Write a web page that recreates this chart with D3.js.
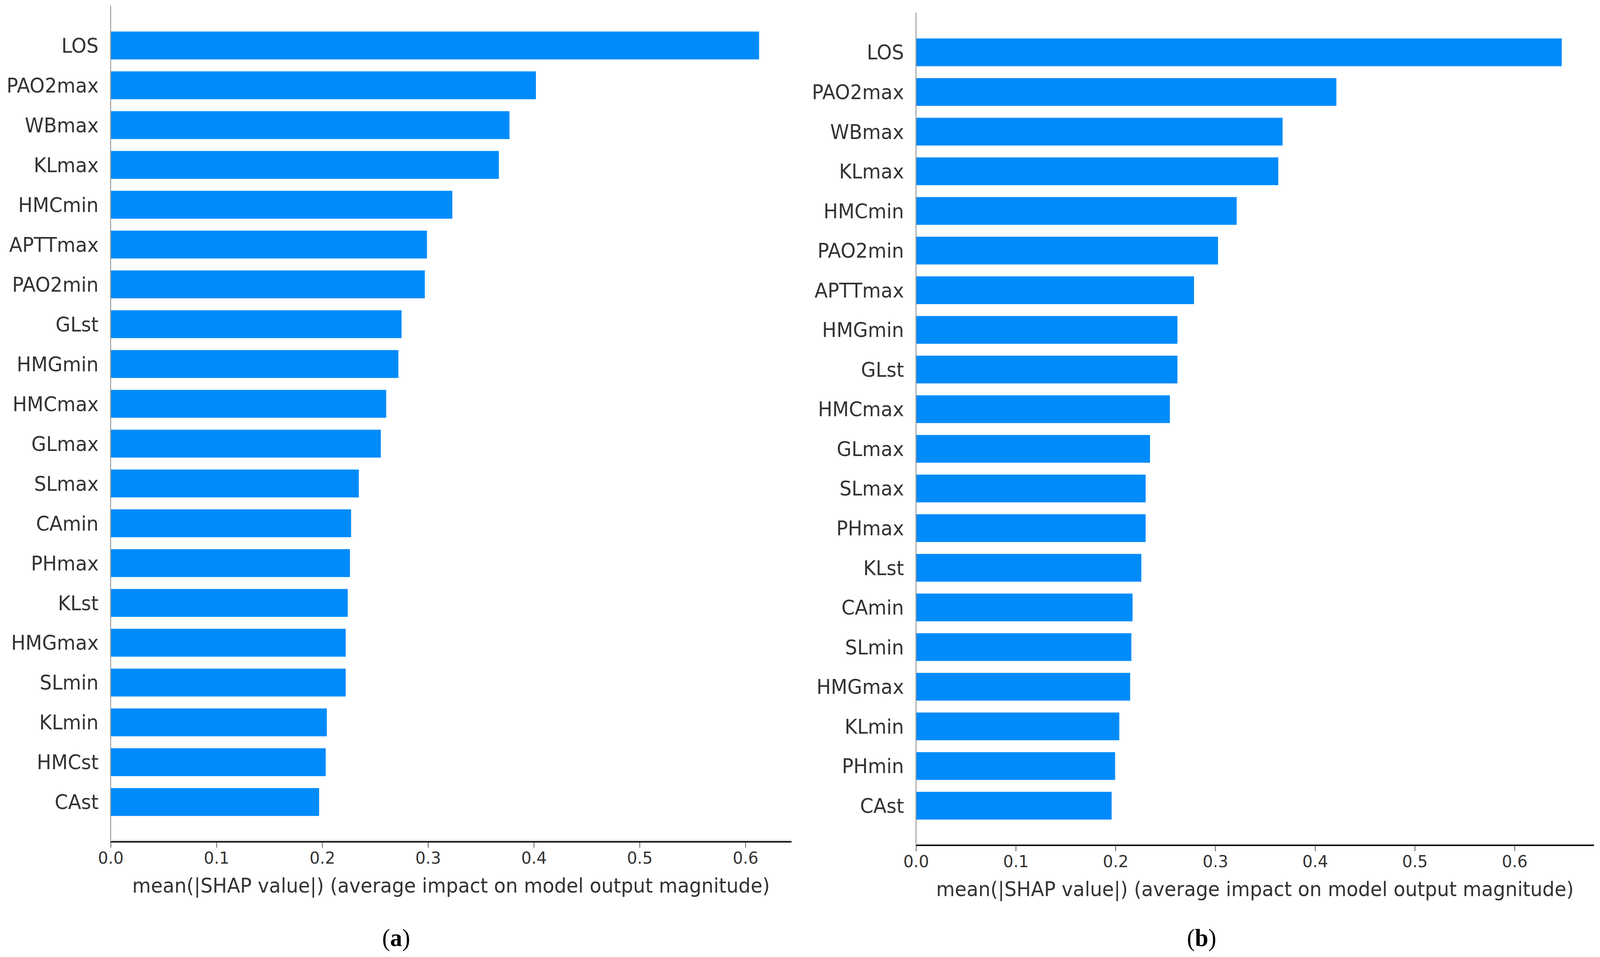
<!DOCTYPE html>
<html lang="en">
<head>
<meta charset="UTF-8">
<title>SHAP feature importance</title>
<script src="https://d3js.org/d3.v7.min.js"></script>
<style>
  html, body { margin: 0; padding: 0; background: #fff; overflow: hidden; }
  #chart svg { display: block; width: 100vw; height: 100vh; }
  svg text { font-family: "DejaVu Sans", sans-serif; fill: #333; }
</style>
</head>
<body>
<div id="chart"></div>
<script>
// panel (a)
const featuresA = ["LOS", "PAO2max", "WBmax", "KLmax", "HMCmin", "APTTmax", "PAO2min", "GLst", "HMGmin", "HMCmax",
                   "GLmax", "SLmax", "CAmin", "PHmax", "KLst", "HMGmax", "SLmin", "KLmin", "HMCst", "CAst"];
const valuesA = [0.613, 0.402, 0.377, 0.367, 0.323, 0.299, 0.297, 0.275, 0.272, 0.2605,
                 0.2554, 0.2346, 0.2273, 0.2262, 0.2241, 0.2222, 0.2222, 0.2044, 0.2033, 0.1971];

// panel (b)
const featuresB = ["LOS", "PAO2max", "WBmax", "KLmax", "HMCmin", "PAO2min", "APTTmax", "HMGmin", "GLst", "HMCmax",
                   "GLmax", "SLmax", "PHmax", "KLst", "CAmin", "SLmin", "HMGmax", "KLmin", "PHmin", "CAst"];
const valuesB = [0.6473, 0.4214, 0.3675, 0.3632, 0.3215, 0.3028, 0.2787, 0.2621, 0.2621, 0.2545,
                 0.2346, 0.2302, 0.2302, 0.2259, 0.2171, 0.2159, 0.2147, 0.2038, 0.1996, 0.1961];

const xTicks = [0, 0.1, 0.2, 0.3, 0.4, 0.5, 0.6];
const xLabel = "mean(|SHAP value|) (average impact on model output magnitude)";

const W = 4261, H = 2451;
// stretch the 4261x2451 drawing over whatever the viewport is
const svg = d3.select("#chart").append("svg")
    .attr("viewBox", `0 0 ${W} ${H}`)
    .attr("preserveAspectRatio", "none");

function drawPanel(features, values, box, caption) {
    const n = features.length;
    const xMax = d3.max(values) * 1.05;
    const x = d3.scaleLinear().domain([0, xMax]).range([box.left, box.right]);
    const y = d3.scaleLinear().domain([-1, n]).range([box.bottom, box.top]);
    const pos = i => n - 1 - i;
    const barH = y(0) - y(0.7);

    const g = svg.append("g");

    g.selectAll("rect.bar")
        .data(values)
        .enter().append("rect")
        .attr("class", "bar")
        .attr("x", x(0))
        .attr("y", (d, i) => y(pos(i)) - barH / 2)
        .attr("width", d => x(d) - x(0))
        .attr("height", barH)
        .attr("fill", "#008bfb");

    // feature labels
    g.selectAll("text.feat")
        .data(features)
        .enter().append("text")
        .attr("class", "feat")
        .attr("x", box.left - 32)
        .attr("y", (d, i) => y(pos(i)))
        .attr("dy", "0.36em")
        .attr("text-anchor", "end")
        .style("font-size", "51px")
        .text(d => d);

    // left spine
    g.append("line")
        .attr("x1", box.left).attr("x2", box.left)
        .attr("y1", box.top).attr("y2", box.bottom)
        .attr("stroke", "#999").attr("stroke-width", 2.5);

    // bottom axis
    const axis = g.append("g")
        .attr("transform", `translate(0,${box.bottom})`)
        .call(d3.axisBottom(x).tickValues(xTicks).tickFormat(d3.format(".1f"))
              .tickSize(15).tickPadding(10));
    axis.select(".domain").remove();
    axis.selectAll(".tick line").attr("stroke", "#555").attr("stroke-width", 2);
    axis.selectAll(".tick text")
        .style("font-size", "43px")
        .attr("fill", "#333");

    g.append("line")
        .attr("x1", box.left).attr("x2", box.right)
        .attr("y1", box.bottom - 2).attr("y2", box.bottom - 2)
        .attr("stroke", "#e6e6e6").attr("stroke-width", 7);
    g.append("line")
        .attr("x1", box.left).attr("x2", box.right)
        .attr("y1", box.bottom).attr("y2", box.bottom)
        .attr("stroke", "#000").attr("stroke-width", 3.5);

    g.append("text")
        .attr("x", (box.left + box.right) / 2)
        .attr("y", box.bottom + 112)
        .attr("dy", "0.36em")
        .attr("text-anchor", "middle")
        .style("font-size", "51px")
        .text(xLabel);

    // sub-caption
    const cap = g.append("text")
        .attr("x", box.capX)
        .attr("y", 2423)
        .attr("text-anchor", "middle")
        .style("font-family", "'Liberation Serif', serif")
        .style("font-size", "64px")
        .style("fill", "#000");
    cap.append("tspan").text("(");
    cap.append("tspan").style("font-weight", "bold").text(caption);
    cap.append("tspan").text(")");
}

drawPanel(featuresA, valuesA, {left: 294.6, right: 2108, top: 14.5, bottom: 2156, capX: 1055}, "a");
drawPanel(featuresB, valuesB, {left: 2439.4, right: 4245, top: 32.5, bottom: 2165, capX: 3200}, "b");
</script>
</body>
</html>
